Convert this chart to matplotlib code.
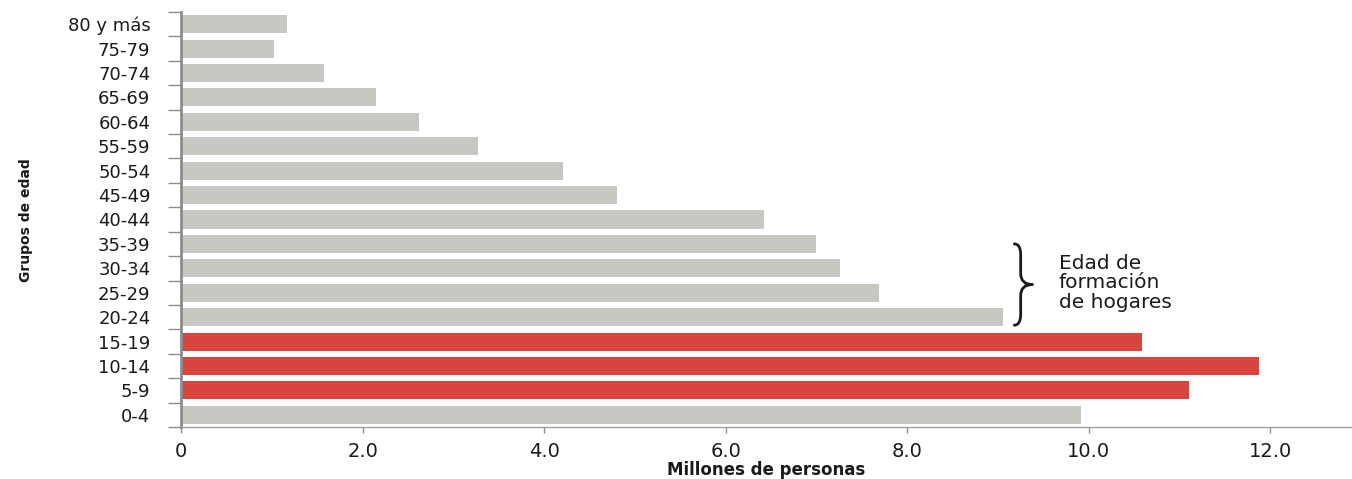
import matplotlib
matplotlib.use("Agg")
import matplotlib.pyplot as plt
from matplotlib.path import Path
from matplotlib.patches import PathPatch

# Population by age group (millions of people), youngest first
age_groups = ["0-4", "5-9", "10-14", "15-19", "20-24", "25-29", "30-34",
              "35-39", "40-44", "45-49", "50-54", "55-59", "60-64",
              "65-69", "70-74", "75-79", "80 y más"]
population = [9.91, 11.10, 11.88, 10.59, 9.06, 7.69, 7.26,
              7.00, 6.42, 4.80, 4.21, 3.27, 2.62,
              2.15, 1.57, 1.02, 1.17]
highlighted = ["5-9", "10-14", "15-19"]
household_groups = ["20-24", "25-29", "30-34", "35-39"]
x_ticks = [0, 2.0, 4.0, 6.0, 8.0, 10.0, 12.0]
x_tick_labels = ["0", "2.0", "4.0", "6.0", "8.0", "10.0", "12.0"]

GRAY = "#c9c7c2"
RED = "#d8453f"
AXIS = "#8c8c8c"
TEXT = "#1a1a1a"

fig = plt.figure(figsize=(13.52, 4.79), dpi=100)
ax = fig.add_axes([0.1339, 0.1086, 0.8661, 0.8664])

ypos = list(range(len(age_groups)))
colors = [RED if g in highlighted else GRAY for g in age_groups]
ax.barh(ypos, population, height=0.74, color=colors, edgecolor="none", zorder=2)

ax.set_xlim(0, 12.9)
ax.set_ylim(-0.5, len(age_groups) - 0.5)

# Category boundaries carry the tick marks; labels sit at the bar centres
ax.set_yticks([i - 0.5 for i in range(len(age_groups) + 1)])
ax.set_yticklabels([])
ax.set_yticks(ypos, minor=True)
ax.set_yticklabels(age_groups, minor=True)
ax.tick_params(axis="y", which="major", direction="out", length=9.5,
               width=1.0, color=AXIS)
ax.tick_params(axis="y", which="minor", length=0, pad=22,
               labelsize=13, labelcolor=TEXT)

ax.set_xticks(x_ticks)
ax.set_xticklabels(x_tick_labels)
ax.tick_params(axis="x", direction="out", length=4, width=1.0, color=AXIS,
               labelsize=14, labelcolor=TEXT, pad=7)

for side in ("top", "right"):
    ax.spines[side].set_visible(False)
ax.spines["left"].set_color(AXIS)
ax.spines["left"].set_linewidth(2.0)
ax.spines["bottom"].set_color("#a0a0a0")
ax.spines["bottom"].set_linewidth(1.0)

ax.set_xlabel("Millones de personas", fontsize=12, fontweight="bold",
              color=TEXT, labelpad=0)
fig.text(0.019, 0.54, "Grupos de edad", rotation=90, fontsize=10,
         fontweight="bold", color=TEXT, ha="center", va="center")

# Curly brace marking the household-formation age groups
top_idx = age_groups.index(household_groups[-1])
bot_idx = age_groups.index(household_groups[0])
y_top = top_idx
y_bot = bot_idx - 0.33
y_mid = (y_top + y_bot) / 2
x_end, x_spine, x_tip = 9.18, 9.25, 9.38
r = 0.45
verts = [
    (x_end, y_top), (x_spine, y_top), (x_spine, y_top - r),
    (x_spine, y_mid + r),
    (x_spine, y_mid), (x_tip, y_mid),
    (x_spine, y_mid), (x_spine, y_mid - r),
    (x_spine, y_bot + r),
    (x_spine, y_bot), (x_end, y_bot),
]
codes = [Path.MOVETO, Path.CURVE3, Path.CURVE3,
         Path.LINETO,
         Path.CURVE3, Path.CURVE3,
         Path.CURVE3, Path.CURVE3,
         Path.LINETO,
         Path.CURVE3, Path.CURVE3]
ax.add_patch(PathPatch(Path(verts, codes), facecolor="none", edgecolor=TEXT,
                       linewidth=2.0, capstyle="round", joinstyle="round",
                       clip_on=False, zorder=3))
ax.text(9.67, 5.4, "Edad de\nformación\nde hogares", fontsize=14.5,
        color=TEXT, ha="left", va="center", linespacing=1.05)

fig.savefig("out.png", dpi=100, facecolor="white")
